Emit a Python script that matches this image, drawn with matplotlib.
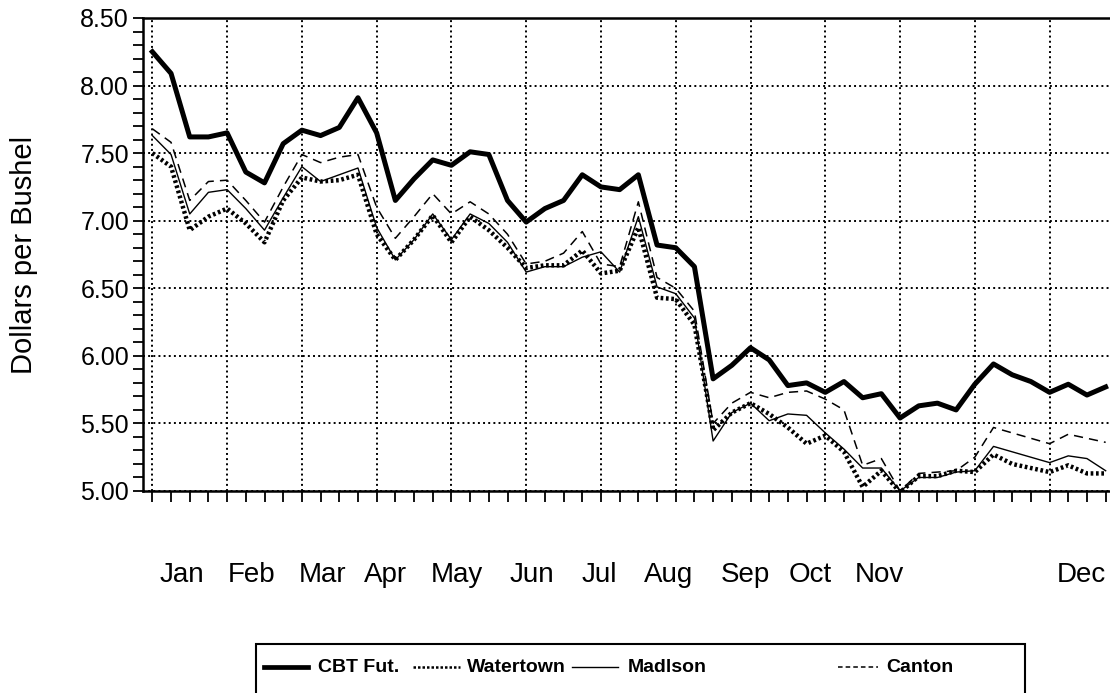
import matplotlib
matplotlib.use("Agg")
import matplotlib.pyplot as plt
from matplotlib.lines import Line2D
from matplotlib.patches import Rectangle
import numpy as np

plt.rcParams['font.family'] = ['Liberation Sans', 'DejaVu Sans']

# weekly prices, Jan..Dec (52 weeks)
cbt_fut = [8.25, 8.09, 7.62, 7.62, 7.65, 7.36, 7.28, 7.57, 7.67, 7.63,
           7.69, 7.91, 7.65, 7.15, 7.31, 7.45, 7.41, 7.51, 7.49, 7.15,
           6.99, 7.09, 7.15, 7.34, 7.25, 7.23, 7.34, 6.82, 6.80, 6.66,
           5.83, 5.93, 6.06, 5.97, 5.78, 5.80, 5.73, 5.81, 5.69, 5.72,
           5.54, 5.63, 5.65, 5.60, 5.79, 5.94, 5.86, 5.81, 5.73, 5.79,
           5.71, 5.77]
watertown = [7.50, 7.40, 6.93, 7.03, 7.09, 6.98, 6.84, 7.15, 7.32, 7.29,
             7.30, 7.34, 6.90, 6.71, 6.86, 7.04, 6.84, 7.03, 6.93, 6.80,
             6.65, 6.67, 6.67, 6.78, 6.61, 6.63, 6.95, 6.43, 6.42, 6.23,
             5.45, 5.58, 5.65, 5.57, 5.47, 5.35, 5.41, 5.29, 5.03, 5.15,
             4.99, 5.11, 5.11, 5.15, 5.14, 5.27, 5.20, 5.17, 5.14, 5.19,
             5.13, 5.13]
madison = [7.63, 7.49, 7.05, 7.21, 7.23, 7.09, 6.93, 7.17, 7.40, 7.29,
           7.34, 7.39, 6.95, 6.71, 6.86, 7.05, 6.86, 7.05, 6.98, 6.84,
           6.62, 6.66, 6.66, 6.73, 6.77, 6.62, 7.03, 6.51, 6.46, 6.28,
           5.37, 5.58, 5.65, 5.52, 5.57, 5.56, 5.43, 5.31, 5.17, 5.17,
           5.00, 5.10, 5.10, 5.14, 5.15, 5.33, 5.29, 5.25, 5.21, 5.26,
           5.24, 5.15]
canton = [7.68, 7.58, 7.15, 7.29, 7.30, 7.15, 6.99, 7.25, 7.49, 7.43,
          7.47, 7.49, 7.10, 6.87, 7.03, 7.20, 7.05, 7.14, 7.05, 6.90,
          6.68, 6.70, 6.76, 6.92, 6.68, 6.66, 7.14, 6.58, 6.50, 6.33,
          5.50, 5.65, 5.73, 5.69, 5.73, 5.74, 5.68, 5.60, 5.19, 5.24,
          5.00, 5.13, 5.14, 5.15, 5.25, 5.47, 5.43, 5.39, 5.35, 5.42,
          5.39, 5.36]
series_names = ['CBT Fut.', 'Watertown', 'Madlson', 'Canton']
months = ['Jan', 'Feb', 'Mar', 'Apr', 'May', 'Jun',
          'Jul', 'Aug', 'Sep', 'Oct', 'Nov', 'Dec']
month_x = [1.6, 5.3, 9.1, 12.5, 16.3, 20.3, 23.9, 27.6, 31.7, 35.2, 38.9, 49.7]

weeks = np.arange(len(cbt_fut))

# line styles in the plot: (linewidth, linestyle)
styles = [(3.6, '-'), (3.2, (0, (0.6, 0.6))), (1.0, '-'), (1.1, (0, (6, 4)))]
# same series, as drawn in the legend
leg_styles = [(3.4, '-'), (1.8, (0, (1, 0.8))), (1.0, '-'), (1.1, (0, (3, 2)))]

fig = plt.figure(figsize=(11.1, 6.93), dpi=100)
ax = fig.add_axes([143/1110, 1 - 491/693, 972/1110, 473/693])

for vals, (lw, ls) in zip([cbt_fut, watertown, madison, canton], styles):
    ax.plot(weeks, vals, color='black', lw=lw, ls=ls)

ax.set_xlim(-0.5, 51.5)
ax.set_ylim(5.0, 8.5)
yt = np.arange(5.0, 8.51, 0.5)
ax.set_yticks(yt)
ax.set_yticklabels([f'{v:.2f}' for v in yt], fontsize=18)
ax.set_yticks(np.arange(5.0, 8.51, 0.1), minor=True)
ax.set_xticks(np.arange(0, 52, 4))
ax.set_xticks(weeks, minor=True)
ax.set_xticklabels([])
ax.tick_params(axis='x', which='both', direction='out', length=8, width=1.3)
ax.tick_params(axis='y', which='both', direction='out', length=7, width=1.3, pad=3)

ax.grid(True, which='major', color='black', ls=':', lw=1.4)

for s in ['left', 'bottom', 'top']:
    ax.spines[s].set_linewidth(1.8)
ax.spines['right'].set_visible(False)

ax.set_ylabel('Dollars per Bushel', fontsize=21)
ax.yaxis.set_label_coords(-0.108, 0.5)

for m, mx in zip(months, month_x):
    ax.text(mx, -0.177, m, transform=ax.get_xaxis_transform(),
            ha='center', va='center', fontsize=20)

# legend box, cut at the bottom edge like the scan
fig.add_artist(Rectangle((256/1110, -0.05), 769/1110, 0.05 + 49/693,
                         transform=fig.transFigure, fill=False,
                         edgecolor='black', lw=1.5))
leg_y = 1 - 667/693
handle_x = [(264, 308), (413, 460), (572, 618), (838, 878)]
text_x = [318, 467, 628, 886]
for (x0, x1), tx, name, (lw, ls) in zip(handle_x, text_x, series_names, leg_styles):
    fig.add_artist(Line2D([x0/1110, x1/1110], [leg_y, leg_y],
                          transform=fig.transFigure, color='black', lw=lw, ls=ls))
    fig.text(tx/1110, leg_y, name, ha='left', va='center',
             fontsize=14, fontweight='bold')

fig.savefig('out.png', dpi=100)
